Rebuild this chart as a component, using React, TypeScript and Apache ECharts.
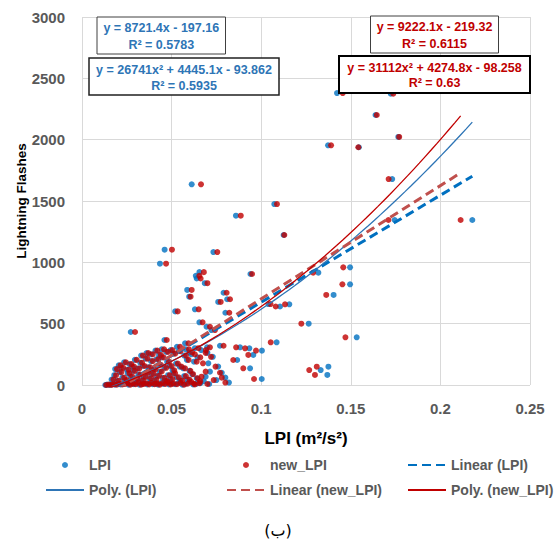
import React, { useEffect, useRef } from 'react';
import * as echarts from 'echarts';

// LPI (m²/s²) vs lightning flashes, blue = LPI, red = new_LPI
const lpiPoints: [number, number][] = [
  [0.1423, 2380], [0.1723, 2375], [0.1638, 2201], [0.1765, 2022], [0.1373, 1954], [0.1545, 1938],
  [0.1731, 1679], [0.1745, 1345], [0.2178, 1345], [0.1073, 1475], [0.1125, 1223], [0.0612, 1636],
  [0.0859, 1380], [0.0461, 1103], [0.0733, 1084], [0.0435, 989], [0.094, 905], [0.1496, 959],
  [0.1496, 821], [0.1404, 734], [0.1319, 916], [0.104, 660], [0.1105, 640], [0.1157, 658],
  [0.1265, 500], [0.1533, 389], [0.1086, 348], [0.1004, 280], [0.1332, 122], [0.1375, 149],
  [0.1369, 82], [0.1003, 49], [0.0956, 245], [0.0938, 136], [0.0882, 307], [0.0934, 299],
  [0.0866, 204], [0.0705, 177], [0.0714, 109], [0.069, 68], [0.0272, 432], [0.052, 600],
  [0.063, 617], [0.08, 589], [0.0655, 511], [0.0695, 475], [0.0722, 448], [0.079, 752],
  [0.076, 677], [0.081, 699], [0.0635, 890], [0.0655, 920], [0.064, 868], [0.0685, 830],
  [0.0587, 775], [0.0598, 720], [0.046, 367], [0.0445, 291], [0.053, 312], [0.0575, 340],
  [0.058, 291], [0.0665, 285], [0.0698, 307], [0.061, 250], [0.077, 320], [0.07, 262],
  [0.073, 230], [0.076, 150], [0.078, 100], [0.075, 40], [0.082, 20], [0.064, 10],
  [0.068, 30], [0.08, 60],
  [0.013, 0], [0.014, 3], [0.0155, 1], [0.017, 6], [0.0185, 2], [0.02, 10], [0.0215, 4],
  [0.023, 8], [0.0245, 15], [0.026, 3], [0.0275, 12], [0.029, 6], [0.0305, 20], [0.032, 2],
  [0.0335, 9], [0.035, 14], [0.0365, 5], [0.038, 18], [0.0395, 7], [0.041, 11], [0.0425, 3],
  [0.044, 16], [0.0455, 8], [0.047, 22], [0.0485, 4], [0.05, 12], [0.052, 6], [0.054, 18],
  [0.056, 2], [0.058, 10], [0.06, 25], [0.062, 5], [0.066, 15], [0.071, 8],
  [0.0165, 45], [0.018, 80], [0.0195, 35], [0.021, 105], [0.0225, 60], [0.024, 40], [0.0255, 95],
  [0.027, 70], [0.0285, 115], [0.03, 50], [0.0315, 85], [0.033, 38], [0.0345, 65], [0.036, 100],
  [0.0375, 55], [0.039, 90], [0.0405, 42], [0.042, 75], [0.0435, 110], [0.045, 58], [0.0465, 33],
  [0.048, 80], [0.0495, 48], [0.051, 95], [0.053, 62], [0.055, 36], [0.057, 73], [0.059, 45],
  [0.0615, 88], [0.064, 55],
  [0.0185, 130], [0.0205, 160], [0.022, 140], [0.0235, 185], [0.025, 125], [0.0265, 170],
  [0.028, 150], [0.0295, 205], [0.031, 135], [0.0325, 182], [0.034, 155], [0.0355, 215],
  [0.037, 145], [0.0385, 195], [0.04, 128], [0.0415, 210], [0.043, 165], [0.0445, 225],
  [0.046, 140], [0.0475, 190], [0.049, 155], [0.0505, 120], [0.0525, 175], [0.0545, 150],
  [0.0565, 136], [0.0585, 205], [0.06, 115], [0.0625, 190], [0.0645, 225],
  [0.033, 240], [0.036, 260], [0.0385, 250], [0.041, 280], [0.043, 245], [0.047, 270],
  [0.0495, 285], [0.051, 255], [0.054, 275], [0.057, 240], [0.06, 265], [0.063, 300],
];

const newLpiPoints: [number, number][] = [
  [0.1455, 2380], [0.1737, 2375], [0.1645, 2201], [0.177, 2022], [0.139, 1954], [0.1542, 1938],
  [0.1711, 1679], [0.171, 1345], [0.2113, 1345], [0.1088, 1475], [0.1129, 1223], [0.0664, 1636],
  [0.0886, 1380], [0.0502, 1103], [0.0755, 1084], [0.0469, 989], [0.0949, 905], [0.1458, 959],
  [0.1453, 821], [0.1363, 734], [0.129, 916], [0.1052, 660], [0.1081, 640], [0.1133, 658],
  [0.1224, 500], [0.147, 389], [0.1053, 348], [0.0971, 280], [0.1268, 122], [0.131, 149],
  [0.13, 82], [0.096, 49], [0.0928, 245], [0.09, 136], [0.086, 307], [0.091, 299],
  [0.0844, 204], [0.0675, 177], [0.069, 109], [0.0667, 68], [0.0296, 432], [0.0534, 600],
  [0.0651, 617], [0.0822, 589], [0.0673, 511], [0.0714, 475], [0.0742, 448], [0.0807, 752],
  [0.0774, 677], [0.0826, 699], [0.0655, 890], [0.068, 920], [0.0662, 868], [0.07, 830],
  [0.0612, 775], [0.0606, 720], [0.0473, 367], [0.0458, 291], [0.0547, 312], [0.0594, 340],
  [0.0597, 291], [0.0692, 285], [0.0714, 307], [0.063, 250], [0.079, 320], [0.069, 262],
  [0.072, 230], [0.0745, 150], [0.077, 100], [0.0735, 40], [0.08, 20], [0.0625, 10],
  [0.066, 30], [0.078, 60],
  [0.0135, 0], [0.015, 3], [0.0165, 1], [0.018, 6], [0.0195, 2], [0.021, 10], [0.0225, 4],
  [0.024, 8], [0.0255, 15], [0.027, 3], [0.0285, 12], [0.03, 6], [0.0315, 20], [0.033, 2],
  [0.0345, 9], [0.036, 14], [0.0375, 5], [0.039, 18], [0.0405, 7], [0.042, 11], [0.0435, 3],
  [0.045, 16], [0.0465, 8], [0.048, 22], [0.0495, 4], [0.051, 12], [0.053, 6], [0.055, 18],
  [0.057, 2], [0.059, 10], [0.061, 25], [0.063, 5], [0.0655, 15], [0.07, 8],
  [0.0175, 45], [0.019, 80], [0.0205, 35], [0.022, 105], [0.0235, 60], [0.025, 40], [0.0265, 95],
  [0.028, 70], [0.0295, 115], [0.031, 50], [0.0325, 85], [0.034, 38], [0.0355, 65], [0.037, 100],
  [0.0385, 55], [0.04, 90], [0.0415, 42], [0.043, 75], [0.0445, 110], [0.046, 58], [0.0475, 33],
  [0.049, 80], [0.0505, 48], [0.052, 95], [0.054, 62], [0.056, 36], [0.058, 73], [0.06, 45],
  [0.062, 88], [0.0645, 55],
  [0.0195, 130], [0.0215, 160], [0.023, 140], [0.0245, 185], [0.026, 125], [0.0275, 170],
  [0.029, 150], [0.0305, 205], [0.032, 135], [0.0335, 182], [0.035, 155], [0.0365, 215],
  [0.038, 145], [0.0395, 195], [0.041, 128], [0.0425, 210], [0.044, 165], [0.0455, 225],
  [0.047, 140], [0.0485, 190], [0.05, 155], [0.0515, 120], [0.0535, 175], [0.0555, 150],
  [0.0575, 136], [0.0595, 205], [0.0605, 115], [0.064, 190], [0.066, 225],
  [0.034, 240], [0.037, 260], [0.0395, 250], [0.042, 280], [0.044, 245], [0.048, 270],
  [0.0505, 285], [0.052, 255], [0.055, 275], [0.058, 240], [0.0615, 265], [0.065, 300],
];

// Trendline coefficients as printed on the chart (highest power first)
const lpiLinearCoef = [8721.4, -197.16];
const lpiPolyCoef = [26741, 4445.1, -93.862];
const newLinearCoef = [9222.1, -219.32];
const newPolyCoef = [31112, 4274.8, -98.258];

const lpiLinearLabel = ['y = 8721.4x - 197.16', 'R² = 0.5783'];
const lpiPolyLabel = ['y = 26741x² + 4445.1x - 93.862', 'R² = 0.5935'];
const newLinearLabel = ['y = 9222.1x - 219.32', 'R² = 0.6115'];
const newPolyLabel = ['y = 31112x² + 4274.8x - 98.258', 'R² = 0.63'];

const FONT = '"Liberation Sans", Arial, sans-serif';
const BLUE = '#0070C0';
const RED = '#C00000';

function evalPoly(coef: number[], x: number) {
  return coef.reduce((acc, c) => acc * x + c, 0);
}

function trend(points: [number, number][], coef: number[], steps: number) {
  const xs = points.map((p) => p[0]);
  const x0 = Math.min(...xs);
  const x1 = Math.max(...xs);
  const out: [number, number][] = [];
  for (let i = 0; i <= steps; i++) {
    const x = x0 + ((x1 - x0) * i) / steps;
    out.push([x, evalPoly(coef, x)]);
  }
  return out;
}

function box(x: number, y: number, w: number, h: number, lines: string[], color: string, border: string, bw: number, l1: number, l2: number) {
  return {
    type: 'group',
    z: 100,
    children: [
      { type: 'rect', z: 100, shape: { x, y, width: w, height: h }, style: { fill: '#fff', stroke: border, lineWidth: bw } },
      { type: 'text', z: 101, x: x + w / 2, y: l1, style: { text: lines[0], align: 'center', verticalAlign: 'middle', fill: color, font: `bold 12.5px ${FONT}` } },
      { type: 'text', z: 101, x: x + w / 2, y: l2, style: { text: lines[1], align: 'center', verticalAlign: 'middle', fill: color, font: `bold 12.5px ${FONT}` } },
    ],
  };
}

export default function App() {
  const ref = useRef<HTMLDivElement>(null);
  useEffect(() => {
    if (!ref.current) return;
    const chart = echarts.init(ref.current, undefined, { renderer: 'svg' });
    const legendText = { fontSize: 14, fontWeight: 'bold', color: '#595959', fontFamily: FONT };
    const legendBase = { orient: 'vertical', itemWidth: 38, itemHeight: 6, itemGap: 11, top: 458, textStyle: legendText, padding: 0 };
    const option: any = {
      animation: false,
      grid: { left: 82, right: 25, top: 17, bottom: 159 },
      xAxis: {
        type: 'value', min: 0, max: 0.25, interval: 0.05,
        name: 'LPI (m²/s²)', nameLocation: 'middle', nameGap: 45,
        nameTextStyle: { fontSize: 17, fontWeight: 'bold', color: '#000', fontFamily: FONT },
        axisLine: { show: false }, axisTick: { show: false },
        axisLabel: { margin: 16, fontSize: 15, fontWeight: 'bold', color: '#595959', fontFamily: FONT },
        splitLine: { show: true, lineStyle: { color: '#D9D9D9', width: 1 } },
      },
      yAxis: {
        type: 'value', min: 0, max: 3000, interval: 500,
        axisLine: { show: false }, axisTick: { show: false },
        axisLabel: { margin: 17, fontSize: 15, fontWeight: 'bold', color: '#595959', fontFamily: FONT, formatter: (v: number) => String(v) },
        splitLine: { show: true, lineStyle: { color: '#D9D9D9', width: 1 } },
      },
      legend: [
        { ...legendBase, left: 45, data: [{ name: 'LPI' }, { name: 'Poly. (LPI)', itemStyle: { opacity: 0 } }] },
        { ...legendBase, left: 226, data: [{ name: 'new_LPI' }, { name: 'Linear (new_LPI)', itemStyle: { opacity: 0 } }] },
        { ...legendBase, left: 407, data: [{ name: 'Linear (LPI)', itemStyle: { opacity: 0 } }, { name: 'Poly. (new_LPI)', itemStyle: { opacity: 0 } }] },
      ],
      graphic: [
        box(97, 17, 128.5, 37, lpiLinearLabel, '#2E75B6', '#404040', 1, 28, 45),
        box(89, 58, 190, 37, lpiPolyLabel, '#2E75B6', '#202020', 1.5, 69.5, 86),
        box(370.5, 16, 128, 37, newLinearLabel, RED, '#404040', 1, 27, 43.5),
        box(339, 56, 191, 37, newPolyLabel, RED, '#000', 2, 68, 83),
        {
          type: 'text', x: 21, y: 201, rotation: Math.PI / 2,
          style: { text: 'Lightning Flashes', align: 'center', verticalAlign: 'middle', fill: '#000', font: `bold 13.5px ${FONT}` },
        },
        {
          type: 'text', x: 278, y: 530,
          style: { text: '(ب)', align: 'center', verticalAlign: 'middle', fill: '#000', font: `16px "DejaVu Sans", "Noto Sans", sans-serif` },
        },
      ],
      series: [
        { name: 'LPI', type: 'scatter', data: lpiPoints, symbolSize: 6, itemStyle: { color: BLUE }, z: 2 },
        { name: 'new_LPI', type: 'scatter', data: newLpiPoints, symbolSize: 6, itemStyle: { color: RED }, z: 3 },
        {
          name: 'Linear (LPI)', type: 'line', data: trend(lpiPoints, lpiLinearCoef, 1), symbol: 'none', clip: true, z: 4,
          lineStyle: { color: BLUE, width: 3, type: [9, 5] }, itemStyle: { color: BLUE },
        },
        {
          name: 'Poly. (LPI)', type: 'line', data: trend(lpiPoints, lpiPolyCoef, 60), symbol: 'none', clip: true, z: 4,
          lineStyle: { color: '#2E75B6', width: 1.3 }, itemStyle: { color: '#2E75B6' },
        },
        {
          name: 'Linear (new_LPI)', type: 'line', data: trend(newLpiPoints, newLinearCoef, 1), symbol: 'none', clip: true, z: 4,
          lineStyle: { color: '#C0504D', width: 3, type: [9, 5] }, itemStyle: { color: '#C0504D' },
        },
        {
          name: 'Poly. (new_LPI)', type: 'line', data: trend(newLpiPoints, newPolyCoef, 60), symbol: 'none', clip: true, z: 4,
          lineStyle: { color: RED, width: 1.3 }, itemStyle: { color: RED },
        },
      ],
    };
    chart.setOption(option);
    return () => chart.dispose();
  }, []);
  return <div ref={ref} style={{ width: 555, height: 544, position: 'absolute', left: 0, top: 0 }} />;
}
